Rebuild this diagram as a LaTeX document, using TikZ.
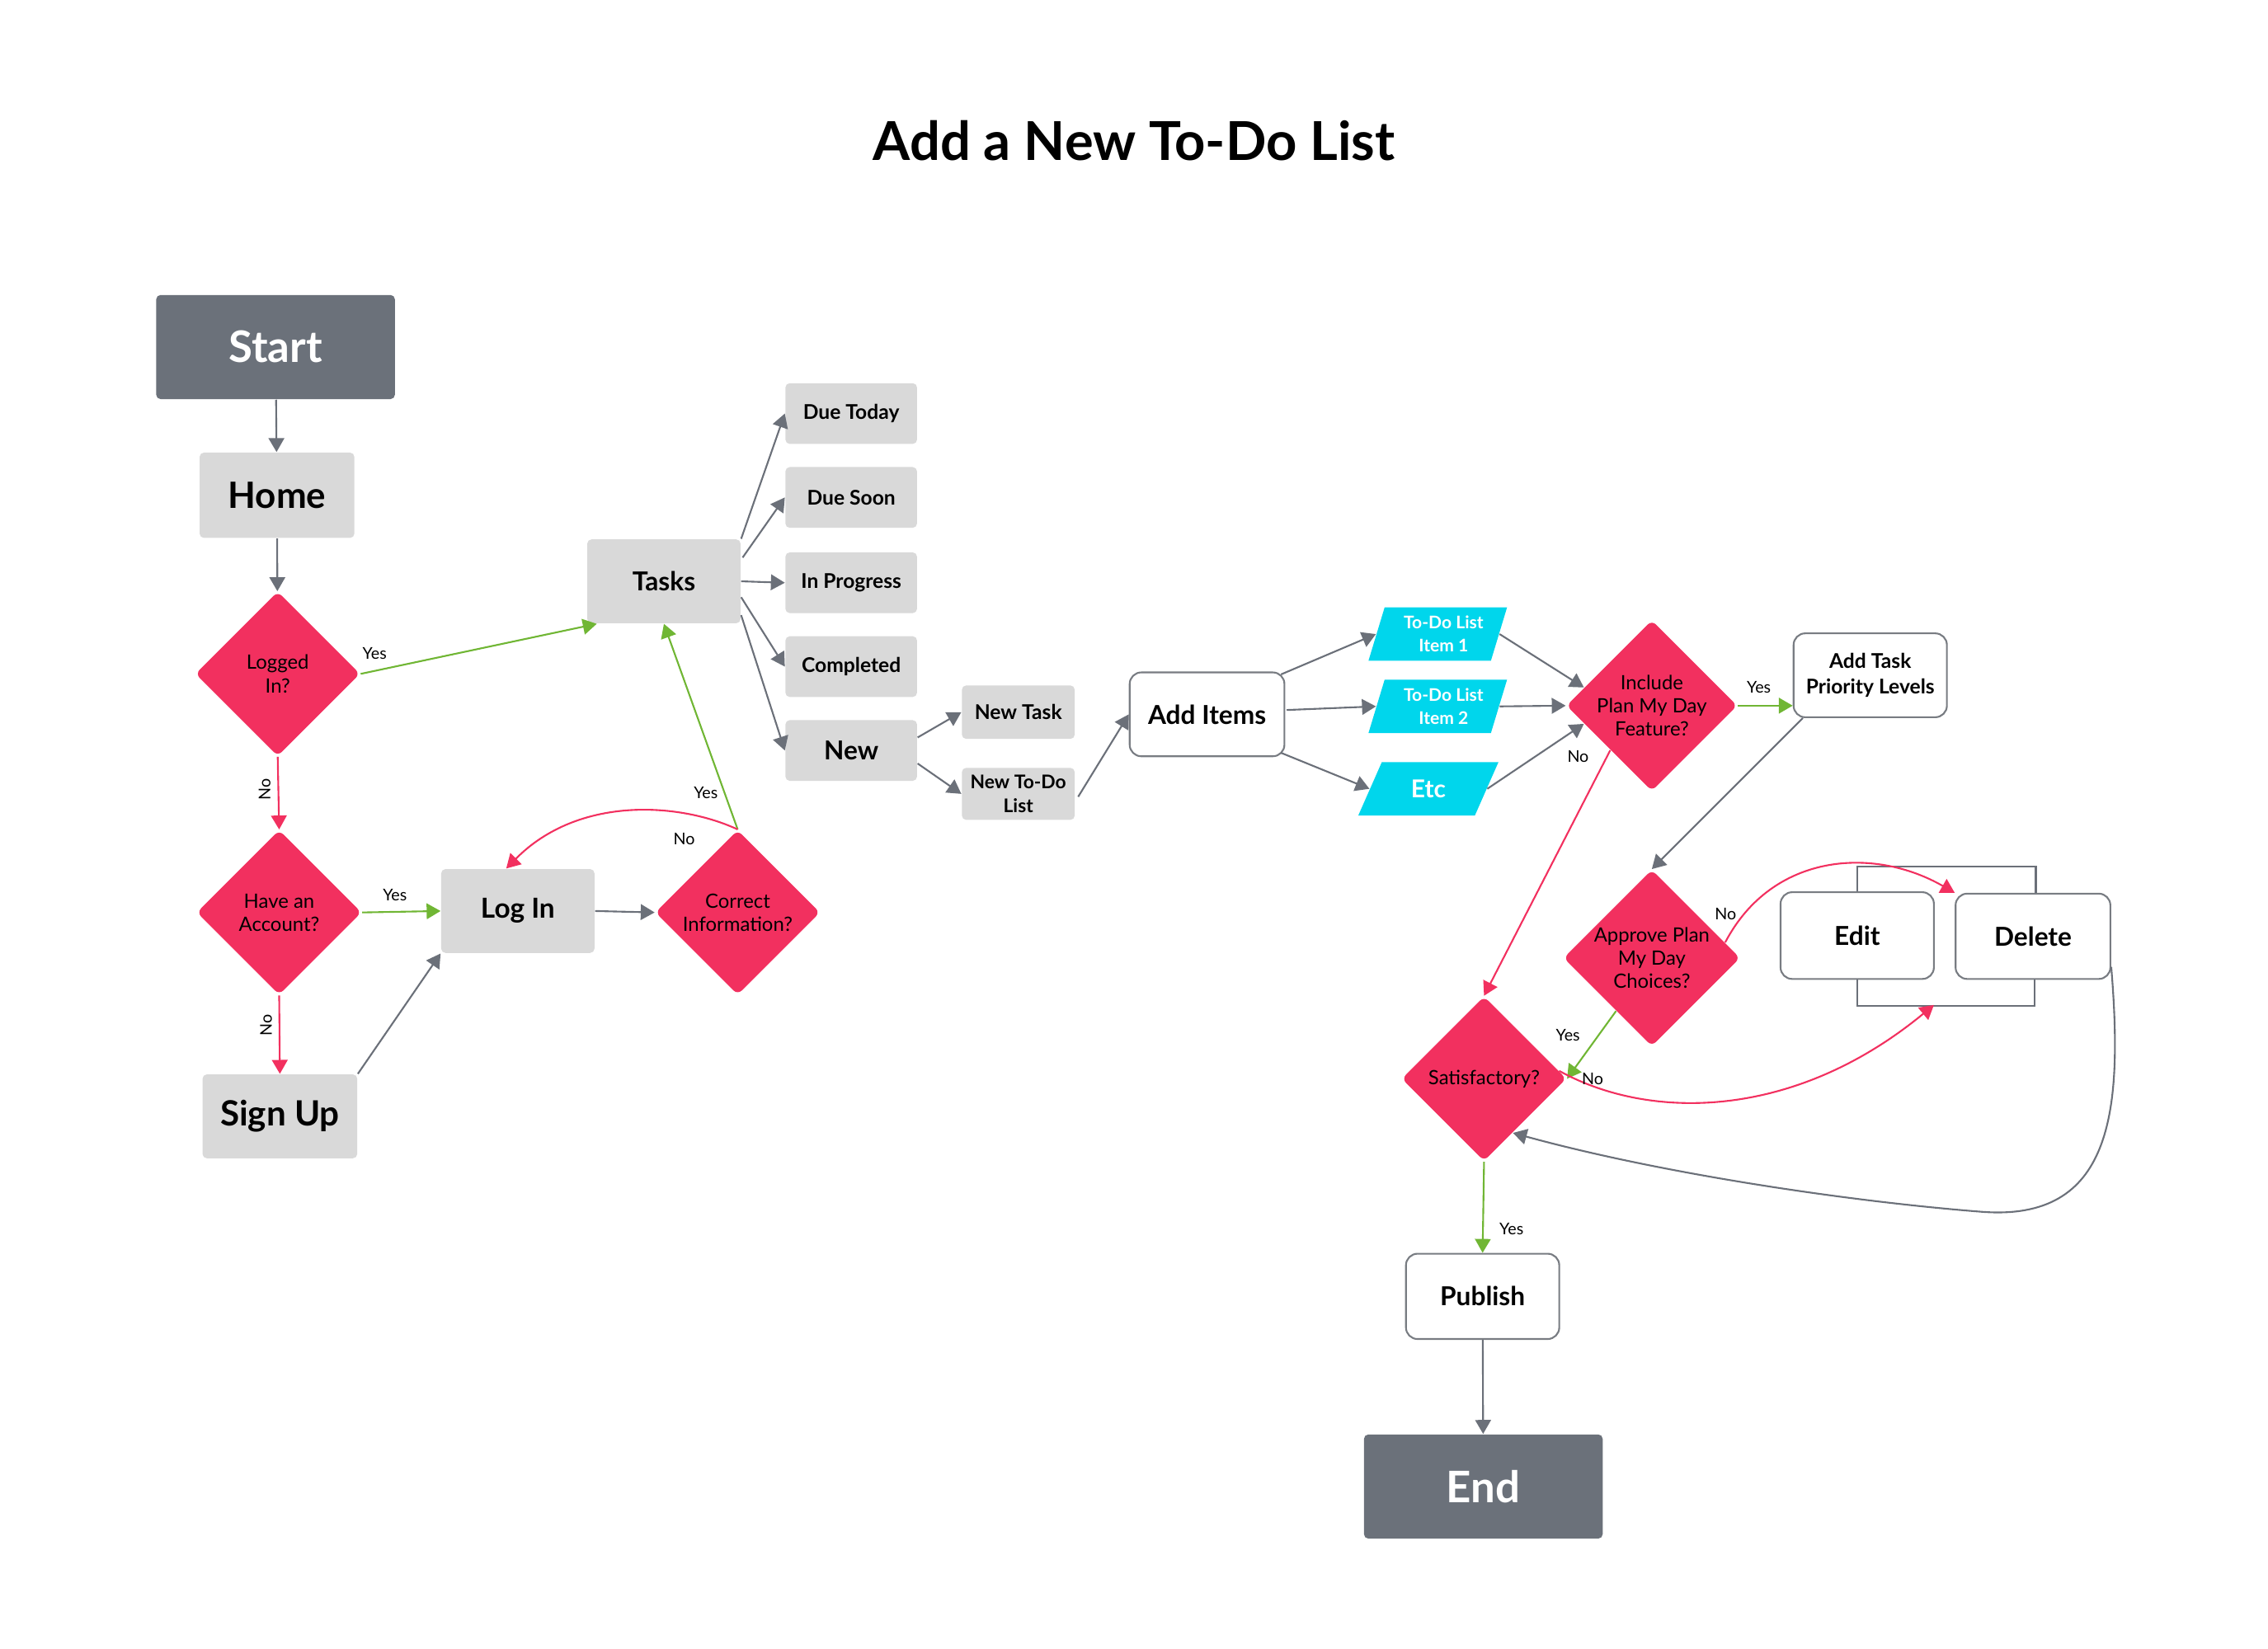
\documentclass[tikz,border=0pt]{standalone}
\usepackage{fontspec}
\setmainfont{Lato}
\usetikzlibrary{shapes.geometric,arrows.meta,calc}
\definecolor{dk}{RGB}{107,113,122}
\definecolor{lt}{RGB}{217,217,217}
\definecolor{pk}{RGB}{242,48,95}
\definecolor{cy}{RGB}{0,214,236}
\definecolor{ln}{RGB}{107,112,121}
\definecolor{gr}{RGB}{112,182,52}
\definecolor{bd}{RGB}{120,124,130}
\def\pu{0.017538cm}
\begin{document}
\begin{tikzpicture}[x=0.017538cm,y=-0.017538cm,
  dbox/.style={rectangle, rounded corners=1.5pt, fill=dk, text=white, inner sep=0pt, align=center, font=\bfseries\fontsize{15}{18}\selectfont, minimum width=165*\pu, minimum height=72*\pu},
  lbox/.style={rectangle, rounded corners=1.5pt, fill=lt, inner sep=0pt, align=center, minimum width=107*\pu, minimum height=58*\pu},
  sbox/.style={rectangle, rounded corners=1.5pt, fill=lt, inner sep=0pt, align=center, minimum width=91*\pu, minimum height=42*\pu, font=\bfseries\fontsize{7}{8.5}\selectfont},
  wbox/.style={rectangle, rounded corners=4pt, fill=white, draw=bd, line width=0.6pt, inner sep=0pt, align=center, minimum width=106*\pu, minimum height=58*\pu, font=\bfseries\fontsize{9}{11}\selectfont},
  dia/.style={diamond, aspect=1, fill=pk, rounded corners=2pt, inner sep=0pt, minimum width=114*\pu, minimum height=114*\pu, align=center, font=\fontsize{6.8}{8}\selectfont},
  para/.style={trapezium, trapezium left angle=69, trapezium right angle=111, trapezium stretches=true, fill=cy, text=white, inner sep=0pt, minimum width=96*\pu, minimum height=37*\pu, align=center, font=\bfseries\fontsize{6}{8}\selectfont},
  arr/.style={-{Triangle[length=4.8pt,width=5.4pt]}, line width=0.6pt},
  ga/.style={arr, draw=ln},
  gn/.style={arr, draw=gr, fill=gr},
  rd/.style={arr, draw=pk, fill=pk},
  lab/.style={font=\fontsize{5.6}{6.5}\selectfont, inner sep=0pt}
]
\useasboundingbox (0,0) rectangle (1568,1140);

% title
\node[font=\bfseries\fontsize{18.5}{22}\selectfont] (title) at (784,97) {Add a New To-Do List};

% left column
\node[dbox] (start) at (190.5,240) {Start};
\node[lbox, font=\bfseries\fontsize{12.5}{15}\selectfont, minimum height=59*\pu] (home) at (191.5,342.5) {Home};
\node[dia] (logged) at (192,466) {Logged\\In?};
\node[dia] (haveacc) at (193,631) {Have an\\Account?};
\node[lbox, font=\bfseries\fontsize{12}{14}\selectfont] (signup) at (193.5,772) {Sign Up};
\node[lbox, font=\bfseries\fontsize{9.5}{11}\selectfont, minimum width=106*\pu] (login) at (358,630) {Log In};
\node[dia] (correct) at (510,631) {Correct\\Information?};
\node[lbox, font=\bfseries\fontsize{9}{11}\selectfont, minimum width=106*\pu] (tasks) at (459,402) {Tasks};

% task categories
\node[sbox] (duetoday) at (588.5,286) {Due Today};
\node[sbox] (duesoon) at (588.5,344) {Due Soon};
\node[sbox] (inprog) at (588.5,403) {In Progress};
\node[sbox] (completed) at (588.5,461) {Completed};
\node[sbox, font=\bfseries\fontsize{9}{11}\selectfont] (new) at (588.5,519) {New};
\node[sbox, minimum width=78*\pu, minimum height=37*\pu] (newtask) at (704,492.5) {New Task};
\node[sbox, minimum width=78*\pu, minimum height=36*\pu, font=\bfseries\fontsize{6.5}{8.3}\selectfont] (newtodo) at (704,549) {New To-Do\\List};

% right part
\node[wbox, minimum width=107*\pu] (additems) at (834.5,494) {Add Items};
\node[para] (item1) at (994,438.5) {\hspace*{4pt}To-Do List\\\hspace*{4pt}Item 1};
\node[para] (item2) at (994,488.5) {\hspace*{4pt}To-Do List\\\hspace*{4pt}Item 2};
\node[para, trapezium left angle=64, trapezium right angle=116, minimum width=97*\pu, font=\bfseries\fontsize{8.5}{10}\selectfont] (etc) at (987.5,545.5) {Etc};
\node[dia] (include) at (1142,488) {Include\\Plan My Day\\Feature?};
\node[wbox, font=\bfseries\fontsize{7}{9}\selectfont] (addtask) at (1293,467) {Add Task\\Priority Levels};
\node[dia] (approve) at (1142,662.5) {Approve Plan\\My Day\\Choices?};
\node[wbox, minimum height=60*\pu] (edit) at (1284,647) {Edit};
\node[wbox, minimum width=107*\pu, minimum height=59*\pu] (delete) at (1405.5,647.5) {Delete};
\node[dia] (satis) at (1026,746) {Satisfactory?};
\node[wbox, minimum height=59*\pu] (publish) at (1025,896.5) {Publish};
\node[dbox] (end) at (1025.5,1028) {End};

% brackets around Edit / Delete
\draw[draw=ln, line width=0.6pt] (edit.north) -- ++(0,-17) -| ($(delete.north)+(2,0)$);
\draw[draw=ln, line width=0.6pt] (edit.south) -- ++(0,18) -| ($(delete.south)+(1,0)$);
\coordinate (brb) at (1337,695);

% connectors left
\draw[ga] (start) -- (home);
\draw[ga] (home) -- (logged);
\draw[gn] (logged.east) -- ($(tasks.south west)+(7,0)$);
\node[lab] (l1) at (259,452) {Yes};
\draw[rd] (logged.south) -- (haveacc.north);
\node[lab, rotate=90] (l2) at (183,546) {No};
\draw[gn] (haveacc.east) -- (login.west);
\node[lab] (l3) at (273,619) {Yes};
\draw[rd] (haveacc.south) -- (signup.north);
\node[lab, rotate=90] (l4) at (184,709) {No};
\draw[ga] (signup.north east) -- (login.south west);
\draw[ga] (login.east) -- (correct.west);
\draw[gn] (correct.north) -- (tasks.south);
\node[lab] (l5) at (488,548) {Yes};
\draw[rd, fill=none] (correct.north) .. controls (470,555) and (400,550) .. ($(login.north)+(-8,0)$);
\node[lab] (l6) at (473,580) {No};

% tasks fan
\draw[ga] (tasks.north east) -- (duetoday.west);
\draw[ga] ($(tasks.north east)+(1,13)$) -- (duesoon.west);
\draw[ga] (tasks.east) -- (inprog.west);
\draw[ga] ($(tasks.east)+(0,11)$) -- (completed.west);
\draw[ga] ($(tasks.south east)+(0,-6)$) -- (new.west);
\draw[ga] ($(new.east)+(0,-9)$) -- (newtask.west);
\draw[ga] ($(new.east)+(0,9)$) -- (newtodo.west);
\draw[ga] ($(newtodo.east)+(2,2)$) -- (additems.west);

% add items fan
\draw[ga] ($(additems.north east)+(-3,2)$) -- (item1.left side);
\draw[ga] ($(additems.east)+(1,-3)$) -- (item2.left side);
\draw[ga] ($(additems.south east)+(-3,-3)$) -- (etc.left side);
\draw[ga] (item1.right side) -- (include.165);
\draw[ga] (item2.right side) -- (include.west);
\draw[ga] (etc.right side) -- (include.195);

\draw[gn] (include.east) -- (addtask.west |- include.east);
\node[lab] (l7) at (1216,475) {Yes};
\draw[rd] (include.227) -- (satis.north);
\node[lab] (l8) at (1091,523) {No};
\draw[ga] ($(addtask.south west)+(7,0)$) -- (approve.north);
\draw[rd, fill=none] (approve.12) .. controls (1225,590) and (1295,585) .. (delete.north west);
\node[lab] (l9) at (1193,632) {No};
\draw[gn] (approve.236) -- (satis.east);
\node[lab] (l10) at (1084,716) {Yes};
\draw[rd, fill=none] (satis.6) .. controls (1140,775) and (1240,775) .. (brb);
\node[lab] (l11) at (1101,746) {No};
\draw[ga] ($(delete.south east)+(0,-9)$) .. controls (1468,770) and (1460,845) .. (1370,838) .. controls (1280,831) and (1150,812) .. (satis.-62);
\draw[gn] (satis.south) -- (publish.north);
\node[lab] (l12) at (1045,850) {Yes};
\draw[ga] (publish) -- (end);
\end{tikzpicture}
\end{document}
